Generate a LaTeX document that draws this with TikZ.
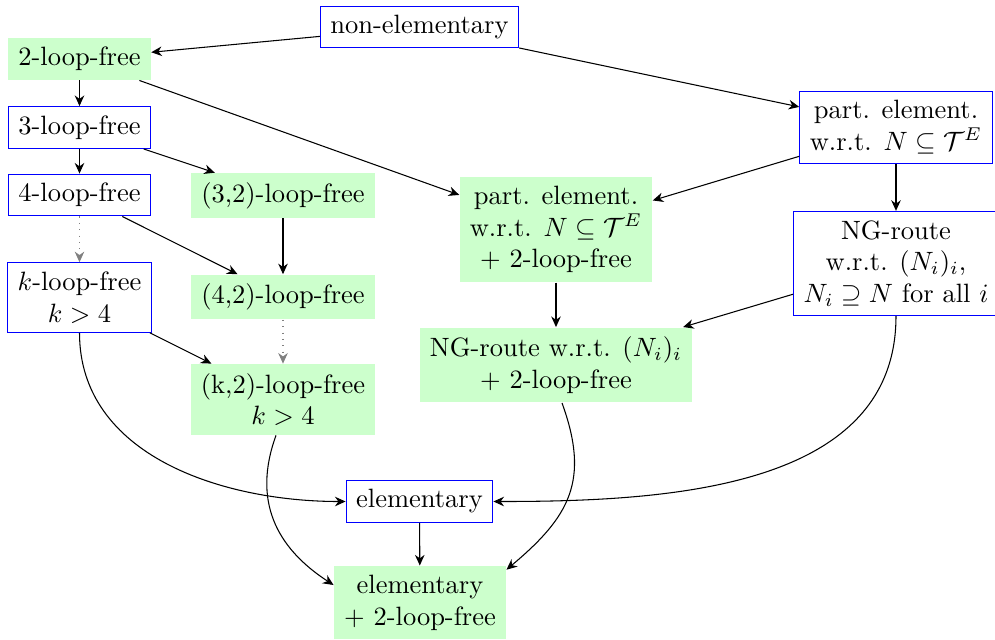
\documentclass[tikz,border=0pt]{standalone}
\usetikzlibrary{arrows.meta,calc}
\begin{document}
\begin{tikzpicture}[x=0.37736pt,y=0.37736pt,
  blu/.style={draw=blue, fill=white, align=center, inner xsep=3.8pt, inner ysep=3.4pt},
  grn/.style={fill=green!20, align=center, inner xsep=3.8pt, inner ysep=3.4pt},
  arr/.style={-{Stealth[length=4pt,width=3.6pt,inset=1.3pt]}, black},
  dotarr/.style={arr, gray, dotted}]
\useasboundingbox (0,0) rectangle (995,-639);
% nodes
\node[blu] (ne)  at (419.5,-27)   {non-elementary};
\node[grn] (l2)  at (79.5,-59)    {2-loop-free};
\node[blu] (l3)  at (79.5,-127.5) {3-loop-free};
\node[blu] (l4)  at (79.5,-195)   {4-loop-free};
\node[blu] (lk)  at (79.5,-297.5) {$k$-loop-free\\$k>4$};
\node[grn] (l32) at (283,-195.5)  {(3,2)-loop-free};
\node[grn] (l42) at (283,-297)    {(4,2)-loop-free};
\node[grn] (lk2) at (283,-399.5)  {(k,2)-loop-free\\$k>4$};
\node[blu] (pe)  at (896,-127.2)  {part. element.\\w.r.t. $N\subseteq\mathcal{T}^E$};
\node[grn] (pe2) at (556,-229.5)  {part. element.\\w.r.t. $N\subseteq\mathcal{T}^E$\\$+$ 2-loop-free};
\node[blu] (ng)  at (896,-263.5)  {NG-route\\w.r.t. $(N_i)_i$,\\$N_i\supseteq N$ for all $i$};
\node[grn] (ng2) at (556,-365)    {NG-route w.r.t. $(N_i)_i$\\$+$ 2-loop-free};
\node[blu] (el)  at (419.5,-501.5) {elementary};
\node[grn] (el2) at (420,-602.7)  {elementary\\$+$ 2-loop-free};
% straight connectors
\draw[arr] (ne) -- (l2);
\draw[arr] (ne) -- (pe);
\draw[arr] (l2) -- (l3);
\draw[arr] (l3) -- (l4);
\draw[arr] (l3) -- (l32);
\draw[arr] (l2) -- (pe2);
\draw[arr] (pe) -- (pe2);
\draw[arr] (pe) -- (ng);
\draw[arr] (l4) -- (l42);
\draw[arr] (l32) -- (l42);
\draw[dotarr] (l4) -- (lk);
\draw[dotarr] (l42) -- (lk2);
\draw[arr] (lk) -- (lk2);
\draw[arr] (pe2) -- (ng2);
\draw[arr] (ng) -- (ng2);
\draw[arr] (el) -- (el2);
% curved connectors
\draw[arr] (lk.south) to[out=-90,in=180] (el.west);
\draw[arr] (ng.south) to[out=-90,in=0] (el.east);
\draw[arr] ($(lk2.south)+(-7,0)$) to[out=-110,in=147,looseness=1.1] ($(el2.west)+(0,17.7)$);
\draw[arr] ($(ng2.south)+(6,0)$) to[out=-70,in=40,looseness=1.2] ($(el2.east)+(0,33)$);
\end{tikzpicture}
\end{document}
